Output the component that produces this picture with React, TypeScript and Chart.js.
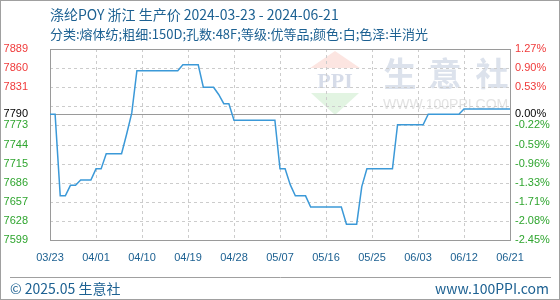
import { useEffect, useRef } from 'react';
import { Chart, registerables } from 'chart.js';

Chart.register(...registerables);

// Daily producer price, 涤纶POY 浙江, from 2024-03-23 (day 0) to 2024-06-21 (day 90)
const priceValues: number[] = [
  7790, 7790, 7666, 7666, 7682, 7682, 7690, 7690, 7690, 7707,
  7707, 7730, 7730, 7730, 7730, 7760, 7792, 7856, 7856, 7856,
  7856, 7856, 7856, 7856, 7856, 7856, 7865, 7865, 7865, 7865,
  7831, 7831, 7831, 7820, 7806, 7806, 7781, 7781, 7781, 7781,
  7781, 7781, 7781, 7781, 7781, 7707, 7707, 7683, 7666, 7666,
  7666, 7649, 7649, 7649, 7649, 7649, 7649, 7649, 7623, 7623,
  7623, 7680, 7707, 7707, 7707, 7707, 7707, 7707, 7774, 7774,
  7774, 7774, 7774, 7774, 7790, 7790, 7790, 7790, 7790, 7790,
  7790, 7798, 7798, 7798, 7798, 7798, 7798, 7798, 7798, 7798,
  7798,
];

// Reference price for the percentage axis
const basePrice = 7790;

const xTickDays: number[] = [0, 9, 18, 27, 36, 45, 54, 63, 72, 81, 90];
const xTickLabels: string[] = ['03/23', '04/01', '04/10', '04/19', '04/28', '05/07', '05/16', '05/25', '06/03', '06/12', '06/21'];

const yTickValues: number[] = [7599, 7628, 7657, 7686, 7715, 7744, 7773, 7790, 7831, 7860, 7889];
const pctTickLabels: string[] = ['-2.45%', '-2.08%', '-1.71%', '-1.33%', '-0.96%', '-0.59%', '-0.22%', '0.00%', '0.53%', '0.90%', '1.27%'];
const yGridValues: number[] = [7628, 7657, 7686, 7715, 7744, 7773, 7802, 7831, 7860];

const titleLine1 = '涤纶POY 浙江 生产价 2024-03-23 - 2024-06-21';
const titleLine2 = '分类:熔体纺;粗细:150D;孔数:48F;等级:优等品;颜色:白;色泽:半消光';
const footerLeft = '© 2025.05 生意社';
const footerRight = 'www.100PPI.com';

const BLUE_TEXT = '#1d6192';
const RED = '#f03a3a';
const GREEN = '#2fa52f';
const CJK = '"Noto Sans CJK SC", "Liberation Sans", sans-serif';

const tickColor = (v: number) => (v > basePrice ? RED : v < basePrice ? GREEN : '#000000');

const decorPlugin = {
  id: 'decor',
  beforeDatasetsDraw(chart: any) {
    const { ctx, chartArea: a } = chart;
    const xs = chart.scales.x;
    const ys = chart.scales.y;
    ctx.save();

    // outer frame of the picture
    ctx.strokeStyle = '#a0a0a0';
    ctx.lineWidth = 1;
    ctx.strokeRect(0.5, 0.5, 559, 299);

    // heading
    ctx.fillStyle = BLUE_TEXT;
    ctx.textBaseline = 'middle';
    ctx.textAlign = 'left';
    ctx.font = `14px ${CJK}`;
    ctx.fillText(titleLine1, 50, 15);
    ctx.font = `13px ${CJK}`;
    ctx.fillText(titleLine2, 50, 34);

    // footer
    ctx.strokeStyle = '#a0a0a0';
    ctx.beginPath();
    ctx.moveTo(10, 277.5);
    ctx.lineTo(551, 277.5);
    ctx.stroke();
    ctx.fillStyle = BLUE_TEXT;
    ctx.font = `14px ${CJK}`;
    ctx.fillText(footerLeft, 10, 289);
    ctx.textAlign = 'right';
    ctx.fillText(footerRight, 549, 289);

    // watermark logo
    ctx.fillStyle = 'rgba(240, 110, 90, 0.18)';
    ctx.beginPath();
    ctx.moveTo(335, 51);
    ctx.lineTo(360, 68);
    ctx.lineTo(310, 68);
    ctx.closePath();
    ctx.fill();
    ctx.fillStyle = 'rgba(110, 200, 110, 0.2)';
    ctx.beginPath();
    ctx.moveTo(311, 93);
    ctx.lineTo(359, 93);
    ctx.lineTo(335, 115);
    ctx.closePath();
    ctx.fill();
    ctx.fillStyle = '#d6dce9';
    ctx.font = 'bold 22px "Liberation Serif", serif';
    ctx.textAlign = 'center';
    ctx.fillText('PPI', 335, 82);
    ctx.font = `bold 33px ${CJK}`;
    ctx.fillStyle = '#dce2ec';
    ctx.fillText('生', 400, 73);
    ctx.fillText('意', 445, 73);
    ctx.fillText('社', 492, 73);
    ctx.font = '14px "Liberation Sans", sans-serif';
    ctx.fillStyle = '#e3e3e3';
    ctx.textAlign = 'left';
    ctx.fillText('WWW.100PPI.COM', 383, 105);

    // dashed grid
    ctx.strokeStyle = '#cccccc';
    ctx.setLineDash([3, 3]);
    yGridValues.forEach((v) => {
      const py = Math.round(ys.getPixelForValue(v)) + 0.5;
      ctx.beginPath();
      ctx.moveTo(a.left, py);
      ctx.lineTo(a.right, py);
      ctx.stroke();
    });
    xTickDays.slice(1, -1).forEach((d) => {
      const px = Math.round(xs.getPixelForValue(d)) + 0.5;
      ctx.beginPath();
      ctx.moveTo(px, a.top);
      ctx.lineTo(px, a.bottom);
      ctx.stroke();
    });
    ctx.setLineDash([]);

    // base line and plot frame
    ctx.strokeStyle = '#9a9a9a';
    const by = Math.round(ys.getPixelForValue(basePrice)) + 0.5;
    ctx.beginPath();
    ctx.moveTo(a.left, by);
    ctx.lineTo(a.right, by);
    ctx.stroke();
    ctx.strokeRect(Math.round(a.left) + 0.5, Math.round(a.top) + 0.5, Math.round(a.right - a.left), Math.round(a.bottom - a.top));
    ctx.restore();
  },
};

export default function App() {
  const canvasRef = useRef<HTMLCanvasElement | null>(null);

  useEffect(() => {
    const canvas = canvasRef.current;
    if (!canvas) return;
    const tickFont = { family: '"Liberation Sans", Arial, sans-serif', size: 11 };
    const chart = new Chart(canvas, {
      type: 'line',
      data: {
        datasets: [
          {
            data: priceValues.map((v, i) => ({ x: i, y: v })),
            borderColor: '#3b99d8',
            borderWidth: 1.5,
            pointRadius: 0,
            tension: 0,
            fill: false,
          },
        ],
      },
      options: {
        responsive: false,
        animation: false,
        devicePixelRatio: 1,
        layout: { padding: { top: 49, left: 0, right: 0, bottom: 0 } },
        plugins: { legend: { display: false }, tooltip: { enabled: false }, title: { display: false } },
        scales: {
          x: {
            type: 'linear',
            min: 0,
            max: 90,
            grid: { display: false, drawTicks: false },
            border: { display: false },
            afterBuildTicks: (scale: any) => {
              scale.ticks = xTickDays.map((d) => ({ value: d }));
            },
            afterFit: (scale: any) => {
              scale.height = 60;
            },
            ticks: {
              autoSkip: false,
              maxRotation: 0,
              padding: 11,
              color: BLUE_TEXT,
              font: tickFont,
              callback: (value: any) => xTickLabels[xTickDays.indexOf(Number(value))] ?? '',
            },
          },
          y: {
            type: 'linear',
            position: 'left',
            min: 7599,
            max: 7889,
            grid: { display: false, drawTicks: false },
            border: { display: false },
            afterBuildTicks: (scale: any) => {
              scale.ticks = yTickValues.map((v) => ({ value: v }));
            },
            afterFit: (scale: any) => {
              scale.width = 50;
            },
            ticks: {
              padding: 22,
              font: tickFont,
              color: (c: any) => tickColor(c.tick.value),
              callback: (value: any) => String(value),
            },
          },
          y2: {
            type: 'linear',
            position: 'right',
            min: 7599,
            max: 7889,
            grid: { display: false, drawTicks: false },
            border: { display: false },
            afterBuildTicks: (scale: any) => {
              scale.ticks = yTickValues.map((v) => ({ value: v }));
            },
            afterFit: (scale: any) => {
              scale.width = 50;
            },
            ticks: {
              padding: 5,
              font: tickFont,
              color: (c: any) => tickColor(c.tick.value),
              callback: (value: any) => pctTickLabels[yTickValues.indexOf(Number(value))] ?? '',
            },
          },
        },
      },
      plugins: [decorPlugin],
    } as any);
    return () => chart.destroy();
  }, []);

  return (
    <div style={{ position: 'fixed', left: 0, top: 0, width: 560, height: 300, background: '#ffffff' }}>
      <canvas ref={canvasRef} width={560} height={300} style={{ display: 'block' }} />
    </div>
  );
}
